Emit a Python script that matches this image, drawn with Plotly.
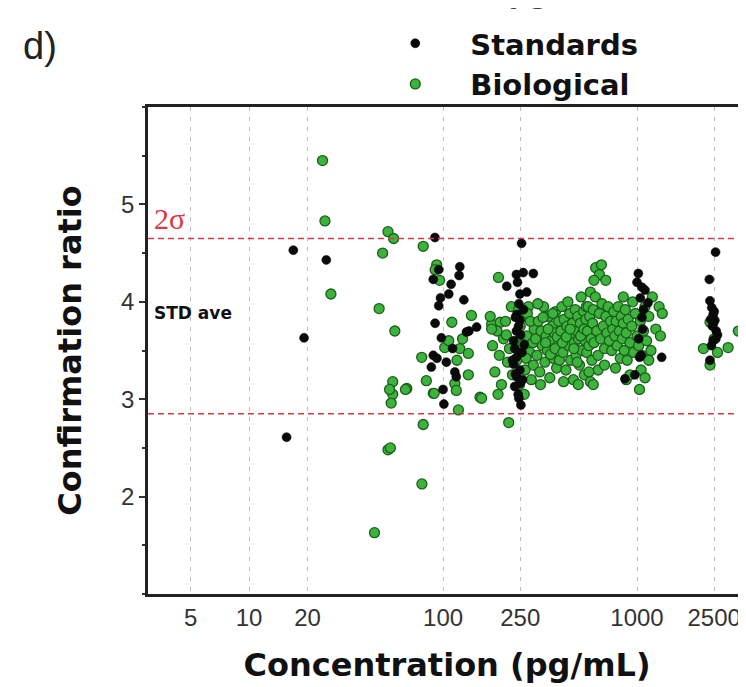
import plotly.graph_objects as go

# ---- tick labels ----
x_ticks = [5, 10, 20, 100, 250, 1000, 2500]
y_ticks = [2, 3, 4, 5]

# ---- reference lines ----
upper_2sigma = 4.65
lower_2sigma = 2.85

# ---- Standards (black) ----
std_conc = [15.6, 16.9, 25, 19.2,
            90.8, 122, 121, 89, 95, 110, 97, 107, 95, 91, 149, 136, 132, 98, 89, 93, 87, 115, 117, 100, 101, 104, 128, 112,
            254, 239, 259, 292, 213, 249, 246, 240, 249, 239, 231, 234, 239, 231, 249, 240, 249, 234, 246, 252, 270, 260, 245, 255, 236, 244, 262, 228, 242, 251, 236, 257,
            1016, 1060, 1100, 1040, 1140, 1060, 1030, 1050, 867, 1340, 1000, 1080, 1020, 1070, 975,
            2541, 2360, 2377, 2430, 2470, 2520, 2560, 2600, 2470, 2377, 2450, 2500, 2420, 2480, 2400, 2550]
std_ratio = [2.61, 4.53, 4.43, 3.63,
             4.66, 4.36, 4.27, 4.23, 4.33, 4.18, 4.04, 4.08, 3.96, 3.78, 3.74, 3.70, 3.69, 3.63, 3.45, 3.42, 3.33, 3.28, 3.23, 3.10, 2.95, 3.38, 4.02, 3.52,
             4.60, 4.28, 4.30, 4.29, 4.16, 4.08, 3.98, 3.87, 3.81, 3.70, 3.60, 3.52, 3.43, 3.36, 3.30, 3.23, 3.16, 3.13, 3.01, 2.94, 4.10, 3.92, 3.75, 3.48, 3.26, 3.05, 3.56, 3.40, 4.20, 3.66, 3.84, 3.20,
             4.29, 4.15, 4.12, 4.04, 3.99, 3.84, 3.43, 3.45, 3.21, 3.43, 4.20, 3.92, 3.62, 3.72, 3.25,
             4.51, 4.23, 4.01, 3.94, 3.87, 3.81, 3.70, 3.66, 3.60, 3.40, 3.75, 3.90, 3.55, 3.78, 3.82, 3.62]

# ---- Biological (green) ----
bio_conc = [23.9, 24.6, 26.4, 52, 55.6, 48.8, 46.8, 56.4, 55, 55, 54, 53, 52, 53.5, 77.8, 44.3, 79, 79, 77.6, 82, 89, 65,
            92.7, 91, 111, 140, 102, 107, 122, 135, 135, 115, 117, 120, 155, 193, 178, 197, 64, 90, 158, 218, 96, 118, 126,
            175, 180, 185, 190, 195, 200, 205, 210, 215, 220, 225, 228, 178, 192, 212,
            240, 245, 250, 255, 260, 265, 270, 275, 280, 285, 290, 295, 248, 262, 272, 258, 268, 282, 292, 245,
            300, 305, 310, 315, 320, 325, 330, 335, 340, 345, 350, 355, 360, 365, 370, 375, 380, 385, 390, 395,
            308, 318, 328, 338, 348, 358, 368, 378, 388, 398,
            405, 410, 415, 420, 425, 430, 435, 440, 445, 450, 455, 460, 465, 470, 475, 480, 485, 490, 495, 500,
            505, 510, 515, 520, 525, 530, 535, 540, 545, 550, 412, 432, 452, 472, 492, 512, 532, 548, 418, 498,
            555, 560, 565, 570, 575, 580, 585, 590, 595, 600, 610, 620, 630, 640, 650, 660, 670, 680, 690, 700,
            710, 720, 730, 740, 750, 575, 595, 612, 640, 655, 690, 600, 630, 680, 565,
            760, 770, 780, 790, 800, 810, 820, 830, 840, 850, 860, 870, 880, 890, 900, 920, 940, 960, 980, 1000,
            775, 880, 920, 850, 950,
            1020, 1040, 1060, 1080, 1100, 1120, 1150, 1180, 1200, 1250, 1300, 1350, 1050, 1100, 1030, 1320, 1150,
            2200, 2950, 3330, 2380, 2380, 2500, 2600]
bio_ratio = [5.45, 4.83, 4.08, 4.72, 4.65, 4.50, 3.93, 3.70, 3.18, 3.05, 2.96, 3.10, 2.48, 2.50, 2.13, 1.63, 2.74, 4.57, 3.43, 3.19, 3.06, 3.11,
             4.38, 4.33, 3.79, 3.86, 3.53, 3.60, 3.52, 3.47, 3.25, 3.16, 3.09, 2.89, 3.02, 4.25, 3.77, 3.79, 3.10, 3.06, 3.01, 2.76, 4.22, 3.40, 3.62,
             3.85, 3.55, 3.28, 3.70, 3.45, 3.15, 3.62, 3.80, 3.38, 3.52, 3.95, 3.25, 3.72, 3.05, 3.66,
             3.40, 3.60, 3.75, 3.50, 3.85, 3.30, 3.65, 3.95, 3.48, 3.20, 3.58, 3.72, 3.15, 3.05, 3.88, 3.56, 3.42, 3.80, 3.35, 3.92,
             3.62, 3.45, 3.80, 3.28, 3.70, 3.55, 3.95, 3.38, 3.65, 3.50, 3.85, 3.22, 3.60, 3.75, 3.42, 3.68, 3.90, 3.32, 3.55, 3.80,
             3.98, 3.15, 3.84, 3.58, 3.72, 3.46, 3.88, 3.52, 3.64, 3.40,
             3.70, 3.95, 3.48, 3.82, 3.60, 3.30, 3.75, 4.00, 3.55, 3.88, 3.40, 3.66, 3.78, 3.20, 3.58, 3.92, 3.45, 3.70, 3.85, 3.62,
             3.35, 3.78, 4.05, 3.50, 3.68, 3.90, 3.25, 3.60, 3.82, 3.48, 3.58, 3.64, 3.72, 3.52, 3.38, 3.65, 3.72, 3.95, 3.18, 3.15,
             3.70, 3.95, 3.55, 3.85, 4.10, 3.62, 3.40, 3.78, 3.92, 3.58, 4.05, 3.70, 3.45, 3.88, 3.62, 3.98, 3.75, 3.52, 3.85, 3.68,
             3.95, 3.60, 3.80, 3.50, 3.72, 3.18, 3.15, 4.35, 4.28, 4.38, 4.22, 4.22, 3.30, 3.35, 3.28,
             3.90, 3.65, 3.80, 3.55, 3.95, 3.70, 3.42, 3.85, 3.62, 3.78, 3.50, 3.92, 3.68, 3.40, 3.82, 3.58, 3.75, 3.48, 3.88, 3.65,
             3.32, 3.20, 3.25, 4.05, 4.00,
             3.55, 3.80, 3.45, 3.70, 3.95, 3.60, 3.85, 3.50, 4.05, 3.72, 3.95, 3.88, 3.30, 3.22, 3.10, 3.65, 3.40,
             3.52, 3.53, 3.70, 3.35, 3.79, 3.62, 3.48]

FONT = "Liberation Sans, Arial, sans-serif"
HEAVY = "DejaVu Sans, Liberation Sans, sans-serif"

fig = go.Figure()
fig.add_trace(go.Scatter(
    x=bio_conc, y=bio_ratio, mode="markers", name="<b>Biological</b>", legendrank=2,
    marker=dict(size=10, color="#3cb43c", line=dict(color="#1d5e1d", width=1.3)),
))
fig.add_trace(go.Scatter(
    x=std_conc, y=std_ratio, mode="markers", name="<b>Standards</b>", legendrank=1,
    marker=dict(size=9, color="#0a0a0a", line=dict(color="#000000", width=0.5)),
))

for yv in (upper_2sigma, lower_2sigma):
    fig.add_shape(type="line", xref="paper", x0=0, x1=1, yref="y", y0=yv, y1=yv,
                  line=dict(color="#d93a44", width=1.6, dash="6px,4px"), layer="above")

fig.add_annotation(text="2σ", xref="paper", x=0.006, xanchor="left", yref="y", y=4.86, yanchor="middle",
                   showarrow=False, font=dict(family="Liberation Serif, Times New Roman, serif", size=30, color="#e0383f"))
fig.add_annotation(text="<b>STD ave</b>", xref="paper", x=0.006, xanchor="left", yref="y", y=3.88, yanchor="middle",
                   showarrow=False, font=dict(family=HEAVY, size=17, color="#111"))
fig.add_annotation(text="d)", xref="paper", x=-0.212, xanchor="left", yref="paper", y=1.125, yanchor="middle",
                   showarrow=False, font=dict(family=FONT, size=38, color="#222"))
fig.add_annotation(text="<b>(pg/mL)</b>", xref="paper", x=0.685, xanchor="center", yref="paper", y=1.195, yanchor="bottom",
                   showarrow=False, font=dict(family=HEAVY, size=28, color="#444"))

# the page body adds an 8px offset, so the figure is 8px smaller than the window
fig.update_layout(
    width=738, height=679,
    margin=dict(l=140, r=0, t=99, b=93, autoexpand=False),
    paper_bgcolor="white", plot_bgcolor="white",
    font=dict(family=FONT, color="#222"),
    showlegend=True,
    legend=dict(x=0.355, xanchor="left", y=1.183, yanchor="top", bgcolor="rgba(0,0,0,0)",
                itemwidth=100, font=dict(family=HEAVY, size=29, color="#111"), tracegroupgap=0),
    xaxis=dict(type="log", range=[0.4786, 3.562], tickvals=x_ticks, ticktext=[str(v) for v in x_ticks],
               ticks="", showgrid=True, gridcolor="#bdbdbd", griddash="4px,6px", gridwidth=1,
               showline=True, linecolor="#222", linewidth=2.5, mirror=True, zeroline=False,
               tickfont=dict(family=FONT, size=24, color="#333"),
               title=dict(text="<b>Concentration (pg/mL)</b>", font=dict(family=HEAVY, size=32, color="#111"), standoff=25)),
    yaxis=dict(range=[1, 6], tickvals=y_ticks, ticks="outside", ticklen=6, tickwidth=2, tickcolor="#333",
               minor=dict(dtick=0.5, tick0=0, ticks="outside", ticklen=3, tickwidth=2, tickcolor="#333", showgrid=False),
               showgrid=False, showline=True, linecolor="#222", linewidth=2.5, zeroline=False,
               tickfont=dict(family=FONT, size=24, color="#333"),
               title=dict(text="<b>Confirmation ratio</b>", font=dict(family=HEAVY, size=32, color="#111"), standoff=30)),
)

fig.write_html("out.html")
